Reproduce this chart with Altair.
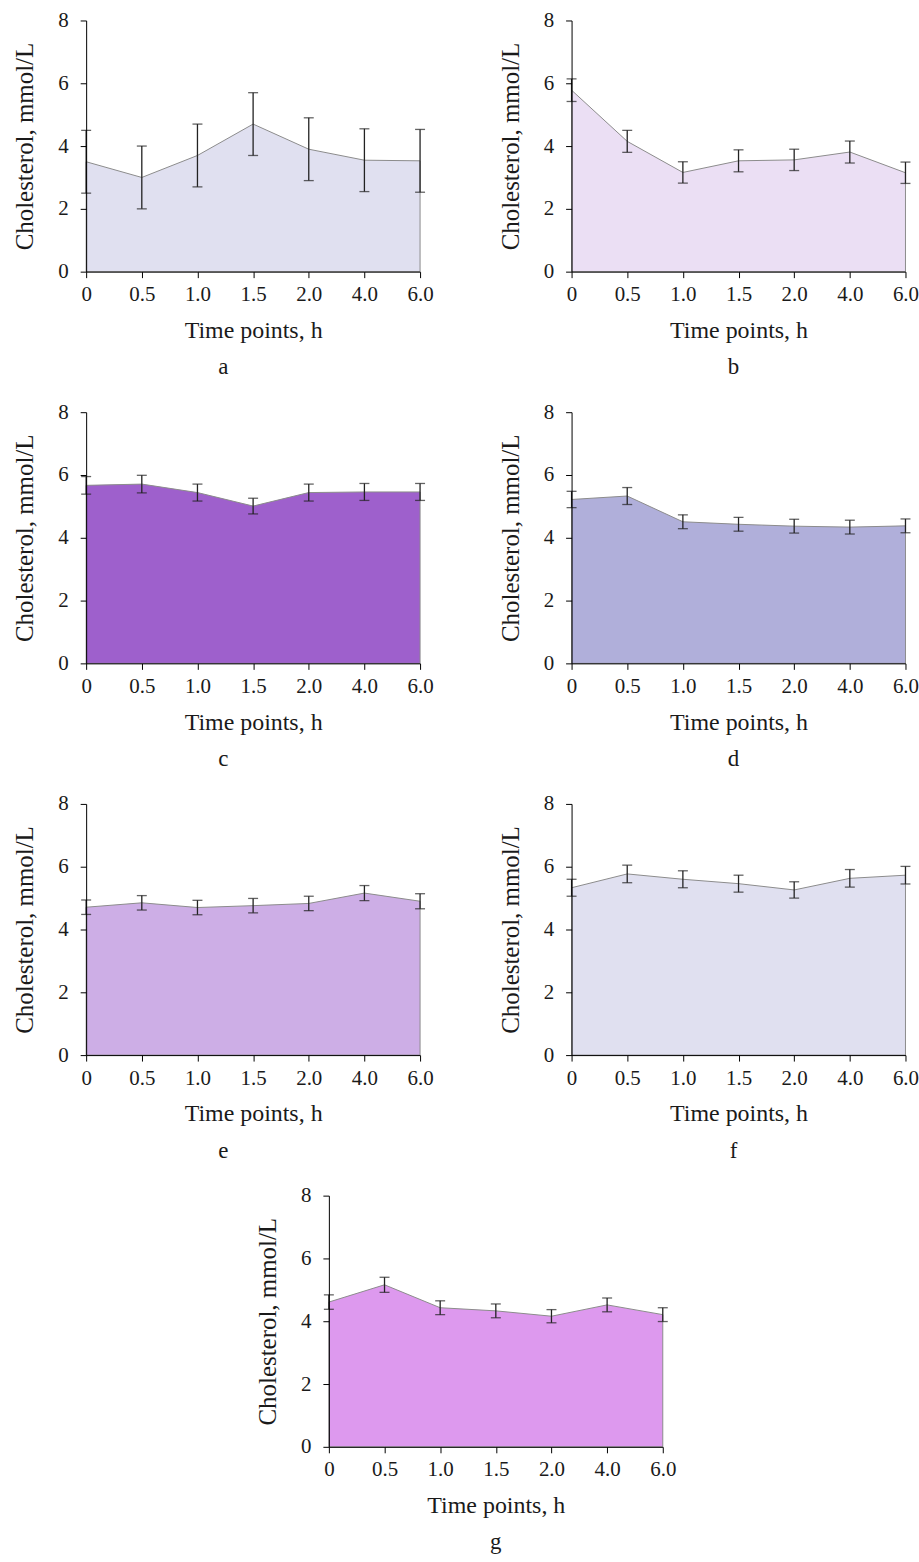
import altair as alt
import pandas as pd

times = ["0", "0.5", "1.0", "1.5", "2.0", "4.0", "6.0"]

mean_a = [3.50, 3.00, 3.70, 4.70, 3.90, 3.55, 3.53]
err_a = [1.00, 1.00, 1.00, 1.00, 1.00, 1.00, 1.00]

mean_b = [5.78, 4.15, 3.16, 3.53, 3.56, 3.81, 3.15]
err_b = [0.36, 0.35, 0.34, 0.35, 0.34, 0.35, 0.34]

mean_c = [5.67, 5.71, 5.44, 5.01, 5.44, 5.46, 5.46]
err_c = [0.28, 0.28, 0.27, 0.25, 0.27, 0.27, 0.27]

mean_d = [5.22, 5.33, 4.51, 4.43, 4.37, 4.34, 4.38]
err_d = [0.26, 0.27, 0.22, 0.22, 0.22, 0.22, 0.22]

mean_e = [4.71, 4.85, 4.70, 4.76, 4.83, 5.16, 4.90]
err_e = [0.23, 0.23, 0.23, 0.23, 0.23, 0.24, 0.24]

mean_f = [5.33, 5.77, 5.60, 5.46, 5.26, 5.63, 5.73]
err_f = [0.27, 0.28, 0.27, 0.27, 0.26, 0.28, 0.28]

mean_g = [4.61, 5.16, 4.43, 4.33, 4.16, 4.52, 4.21]
err_g = [0.23, 0.24, 0.22, 0.22, 0.21, 0.22, 0.22]

labels = ["a", "b", "c", "d", "e", "f", "g"]
colors = ["#e0e0f0", "#ebdff4", "#9e60cc", "#b0afda", "#cdaee6", "#e0e0f0", "#dd99ee"]

FONT = "Liberation Serif"
TXT = "#1a1a1a"
W, H = 335, 252


def panel(letter, means, errs, color, dx):
    df = pd.DataFrame({
        "time": times,
        "mean": means,
        "lo": [m - e for m, e in zip(means, errs)],
        "hi": [m + e for m, e in zip(means, errs)],
    })
    base = alt.Chart(df)
    x = alt.X(
        "time:N", sort=times,
        scale=alt.Scale(type="point", padding=0),
        axis=alt.Axis(title="Time points, h", labelAngle=0, zindex=1,
                      domainColor="#000", tickColor="#000", tickSize=6,
                      labelPadding=6, titlePadding=14,
                      labelFont=FONT, labelFontSize=21, labelColor=TXT,
                      titleFont=FONT, titleFontSize=24, titleFontWeight="normal",
                      titleColor=TXT),
    )
    y = alt.Y(
        "mean:Q", scale=alt.Scale(domain=[0, 8]),
        axis=alt.Axis(title="Cholesterol, mmol/L", values=[0, 2, 4, 6, 8],
                      grid=False, zindex=1, domainColor="#000", tickColor="#000",
                      tickSize=6, labelPadding=12, titlePadding=20,
                      labelFont=FONT, labelFontSize=21, labelColor=TXT,
                      titleFont=FONT, titleFontSize=25, titleFontWeight="normal",
                      titleColor=TXT),
    )
    area = base.mark_area(color=color, stroke="#8c8c8c", strokeWidth=1, opacity=1).encode(x=x, y=y)
    rule = base.mark_rule(color="#222", strokeWidth=1.3).encode(
        x=alt.X("time:N", sort=times), y=alt.Y("lo:Q"), y2="hi:Q")
    cap_lo = base.mark_tick(orient="horizontal", size=10, thickness=1.3, color="#222").encode(
        x=alt.X("time:N", sort=times), y=alt.Y("lo:Q"))
    cap_hi = base.mark_tick(orient="horizontal", size=10, thickness=1.3, color="#222").encode(
        x=alt.X("time:N", sort=times), y=alt.Y("hi:Q"))
    return alt.layer(area, rule, cap_lo, cap_hi).properties(
        width=W, height=H,
        title=alt.TitleParams(text=letter, orient="bottom", anchor="middle", dx=dx,
                              offset=14, font=FONT, fontSize=23, fontWeight="normal",
                              color=TXT),
    )


means = [mean_a, mean_b, mean_c, mean_d, mean_e, mean_f, mean_g]
errs = [err_a, err_b, err_c, err_d, err_e, err_f, err_g]
dxs = [-30, -5, -30, -5, -30, -5, 0]
panels = [panel(l, m, e, c, d) for l, m, e, c, d in zip(labels, means, errs, colors, dxs)]

row1 = alt.hconcat(panels[0], panels[1], spacing=64)
row2 = alt.hconcat(panels[2], panels[3], spacing=64)
row3 = alt.hconcat(panels[4], panels[5], spacing=64)
row4 = panels[6]

chart = alt.vconcat(row1, row2, row3, row4, spacing=22, center=True).properties(
    padding={"left": 12, "top": 7, "right": 0, "bottom": 0},
    background="white",
).configure_view(strokeWidth=0, stroke="transparent")

chart.save("out.html", embed_options={"renderer": "svg", "actions": False})
